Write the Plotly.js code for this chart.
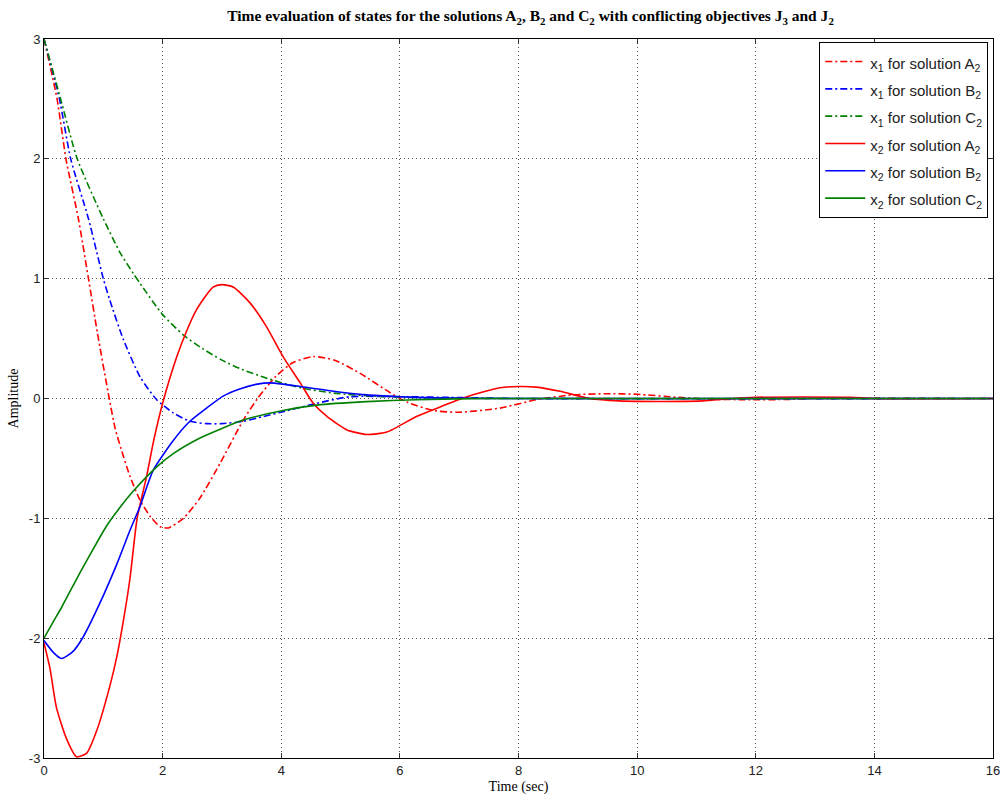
<!DOCTYPE html>
<html>
<head>
<meta charset="utf-8">
<script src="https://cdn.plot.ly/plotly-3.0.1.min.js"></script>
<style>html,body{margin:0;padding:0;background:#fff;}#chart{width:1001px;height:800px;}</style>
</head>
<body>
<div id="chart"></div>
<script>
// ---- Data ----
const seriesNames = [
  "x<sub>1</sub> for solution A<sub>2</sub>",
  "x<sub>1</sub> for solution B<sub>2</sub>",
  "x<sub>1</sub> for solution C<sub>2</sub>",
  "x<sub>2</sub> for solution A<sub>2</sub>",
  "x<sub>2</sub> for solution B<sub>2</sub>",
  "x<sub>2</sub> for solution C<sub>2</sub>"
];

// x1, solution A2
const tX1A = [0, 0.22, 0.37, 0.58, 0.75, 0.9, 1.1, 1.2, 1.3, 1.45, 1.62, 1.8, 1.96, 2.1, 2.35, 2.63, 2.97, 3.36, 3.6, 3.9, 4.2, 4.54, 4.9, 5.33, 5.83, 6.12, 6.56, 7.0, 7.69, 8.3, 8.9, 9.5, 10.0, 10.7, 11.2, 11.9, 12.5, 13.0, 16];
const yX1A = [3, 2.5, 2.0, 1.5, 1.0, 0.55, 0.0, -0.25, -0.42, -0.65, -0.85, -0.99, -1.07, -1.08, -1.0, -0.83, -0.54, -0.18, 0.0, 0.18, 0.3, 0.35, 0.32, 0.21, 0.05, -0.03, -0.1, -0.115, -0.08, -0.01, 0.03, 0.04, 0.035, 0.01, -0.005, -0.01, -0.008, 0, 0];

// x1, solution B2
const tX1B = [0, 0.26, 0.45, 0.75, 1.0, 1.11, 1.34, 1.62, 1.9, 2.18, 2.46, 2.74, 3.0, 3.36, 3.7, 4.03, 4.6, 5.16, 6.0, 7.0, 8.0, 16];
const yX1B = [3, 2.5, 2.0, 1.5, 1.0, 0.82, 0.49, 0.18, -0.01, -0.12, -0.19, -0.21, -0.21, -0.19, -0.15, -0.11, -0.04, 0.015, 0.015, 0.008, 0, 0];

// x1, solution C2
const tX1C = [0, 0.28, 0.56, 1.0, 1.28, 1.51, 1.62, 2.0, 2.35, 2.63, 3.0, 3.3, 3.75, 4.32, 4.88, 5.72, 6.5, 8.0, 16];
const yX1C = [3, 2.5, 2.0, 1.5, 1.22, 1.04, 0.96, 0.7, 0.53, 0.43, 0.32, 0.25, 0.17, 0.09, 0.045, 0.015, 0.005, 0, 0];

// x2, solution A2
const tX2A = [0, 0.1, 0.21, 0.38, 0.55, 0.72, 0.89, 1.11, 1.23, 1.34, 1.45, 1.57, 1.73, 1.85, 2.0, 2.24, 2.41, 2.57, 2.85, 3.0, 3.19, 3.47, 3.75, 4.03, 4.32, 4.54, 4.77, 5.1, 5.44, 5.78, 6.28, 6.68, 7.13, 7.69, 8.0, 8.3, 8.7, 9.2, 9.7, 10.4, 11.1, 11.6, 12.0, 12.8, 13.6, 14.0, 16];
const yX2A = [-2.04, -2.25, -2.58, -2.84, -2.99, -2.96, -2.77, -2.4, -2.15, -1.85, -1.5, -1.0, -0.65, -0.35, -0.04, 0.35, 0.57, 0.74, 0.93, 0.95, 0.93, 0.8, 0.6, 0.35, 0.13, -0.04, -0.15, -0.26, -0.3, -0.28, -0.15, -0.07, 0.015, 0.09, 0.1, 0.095, 0.06, 0.0, -0.02, -0.025, -0.02, 0.0, 0.01, 0.012, 0.01, 0, 0];

// x2, solution B2
const tX2B = [0, 0.16, 0.3, 0.49, 0.66, 0.94, 1.23, 1.45, 1.62, 1.84, 2.18, 2.46, 2.74, 3.02, 3.3, 3.6, 3.8, 4.03, 4.32, 4.88, 5.44, 6.0, 6.56, 7.5, 16];
const yX2B = [-2.02, -2.12, -2.17, -2.11, -1.99, -1.71, -1.38, -1.1, -0.9, -0.6, -0.35, -0.19, -0.08, 0.02, 0.08, 0.12, 0.13, 0.12, 0.1, 0.06, 0.03, 0.015, 0.005, 0, 0];

// x2, solution C2
const tX2C = [0, 0.16, 0.3, 0.61, 0.94, 1.06, 1.28, 1.51, 1.9, 2.18, 2.63, 3.0, 3.36, 4.03, 4.6, 5.44, 6.28, 7.5, 16];
const yX2C = [-2.0, -1.86, -1.74, -1.45, -1.16, -1.06, -0.91, -0.77, -0.57, -0.46, -0.33, -0.25, -0.18, -0.1, -0.055, -0.026, -0.01, 0, 0];

const xTickVals = [0, 2, 4, 6, 8, 10, 12, 14, 16];
const yTickVals = [-3, -2, -1, 0, 1, 2, 3];

// ---- Styling ----
const RED = "#ff0000", BLUE = "#0000ff", GREEN = "#008000";
const DASHDOT = "7px,3px,2px,3px";

function mk(t, y, name, color, dash) {
  return {
    x: t, y: y,
    name: '<span style="font-size:15px">' + name + '</span>',
    type: "scatter", mode: "lines",
    line: {color: color, width: 1.6, dash: dash, shape: "spline", smoothing: 0.6},
    hoverinfo: "skip"
  };
}

const data = [
  mk(tX1A, yX1A, seriesNames[0], RED, DASHDOT),
  mk(tX1B, yX1B, seriesNames[1], BLUE, DASHDOT),
  mk(tX1C, yX1C, seriesNames[2], GREEN, DASHDOT),
  mk(tX2A, yX2A, seriesNames[3], RED, "solid"),
  mk(tX2B, yX2B, seriesNames[4], BLUE, "solid"),
  mk(tX2C, yX2C, seriesNames[5], GREEN, "solid")
];

const axisCommon = {
  showline: true, linecolor: "#000", linewidth: 1, mirror: "ticks",
  ticks: "inside", ticklen: 5, tickcolor: "#333", tickwidth: 1,
  showgrid: true, gridcolor: "#555", griddash: "1px,3px", gridwidth: 1,
  zeroline: false,
  tickfont: {family: "Liberation Sans, Arial, sans-serif", size: 13, color: "#222"}
};

const layout = {
  width: 1001, height: 800,
  paper_bgcolor: "#fff", plot_bgcolor: "#fff",
  margin: {l: 44, r: 8, t: 39, b: 42},
  title: {
    text: "Time evaluation of states for the solutions A<sub>2</sub>, B<sub>2</sub> and C<sub>2</sub> with conflicting objectives J<sub>3</sub> and J<sub>2</sub>",
    font: {family: "Liberation Serif, Times New Roman, serif", size: 15.5, color: "#000", weight: "bold"},
    x: 0.53, xanchor: "center", xref: "container",
    y: 0.98, yanchor: "middle", yref: "container"
  },
  xaxis: Object.assign({}, axisCommon, {
    range: [0, 16], tickvals: xTickVals, ticktext: xTickVals.map(String),
    title: {text: "Time (sec)", standoff: 4, font: {family: "Liberation Serif, Times New Roman, serif", size: 14, color: "#000"}}
  }),
  yaxis: Object.assign({}, axisCommon, {
    range: [-3, 3], tickvals: yTickVals, ticktext: yTickVals.map(String),
    title: {text: "Amplitude", standoff: 6, font: {family: "Liberation Serif, Times New Roman, serif", size: 14, color: "#000"}}
  }),
  showlegend: true,
  legend: {
    x: 0.995, xanchor: "right", y: 0.996, yanchor: "top",
    bgcolor: "#fff", bordercolor: "#000", borderwidth: 1,
    font: {family: "Liberation Sans, Arial, sans-serif", size: 18.7, color: "#222"},
    traceorder: "normal", itemwidth: 40, tracegroupgap: 0
  }
};

Plotly.newPlot("chart", data, layout, {staticPlot: true, displayModeBar: false});
</script>
</body>
</html>
